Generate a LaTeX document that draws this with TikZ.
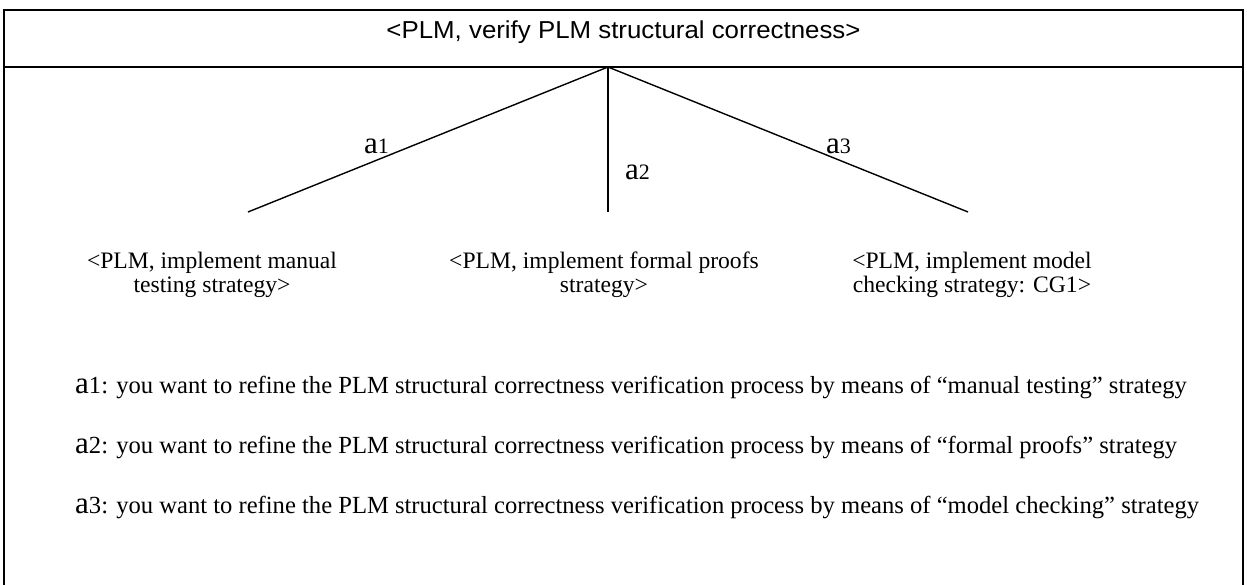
\documentclass[tikz,border=0pt]{standalone}
\usepackage{fontspec}
\setmainfont{Liberation Serif}
\newfontfamily\arialf{Liberation Sans}
\tikzset{
  frame/.style={line width=1.8pt},
  branch/.style={line width=1.4pt},
  childtxt/.style={font=\fontsize{23.6}{23.5}\selectfont, align=center, inner sep=0pt, anchor=base},
  lbl/.style={inner sep=0pt, anchor=base west},
  note/.style={inner sep=0pt, anchor=base west}
}
\newcommand{\alab}[1]{{\fontsize{31}{31}\selectfont a}{\fontsize{22}{22}\selectfont #1}}
\newcommand{\blab}[1]{{\fontsize{31}{31}\selectfont a}{\fontsize{24.6}{24.6}\selectfont #1}}
\begin{document}
\begin{tikzpicture}[x=1pt,y=-1pt]
\useasboundingbox (0,0) rectangle (1247,585);
\draw[frame] (4,585) -- (4,10) -- (1243,10) -- (1243,585);
\draw[frame] (4,67) -- (1243,67);
\node[font=\arialf\fontsize{24.5}{25}\selectfont, inner sep=0pt, anchor=base] (title) at (623.5,39) {\scalebox{1.055}[1]{<PLM, verify PLM structural correctness>}};
\coordinate (apex) at (608,67);
\coordinate (c1) at (248,212);
\coordinate (c2) at (608,212);
\coordinate (c3) at (968,212);
\draw[branch] (apex) -- (c1);
\draw[branch] (apex) -- (c2);
\draw[branch] (apex) -- (c3);
\node[lbl] (l1) at (364,154) {\alab{1}};
\node[lbl] (l2) at (625,180) {\alab{2}};
\node[lbl] (l3) at (826,154) {\alab{3}};
\begin{scope}
\clip (10,230) rectangle (1235,299);
\node[childtxt] (t1) at (212,292) {<PLM, implement manual\\testing strategy>};
\node[childtxt] (t2) at (604,292) {<PLM, implement formal proofs\\strategy>};
\node[childtxt] (t3) at (972,292) {<PLM, implement model\\checking strategy: CG1>};
\end{scope}
\node[note] (n1) at (75,393) {\blab{1}{\fontsize{24.6}{24.6}\selectfont : you want to refine the PLM structural correctness verification process by means of “manual testing” strategy}};
\node[note] (n2) at (75,453) {\blab{2}{\fontsize{24.6}{24.6}\selectfont : you want to refine the PLM structural correctness verification process by means of “formal proofs” strategy}};
\node[note] (n3) at (75,513) {\blab{3}{\fontsize{24.6}{24.6}\selectfont : you want to refine the PLM structural correctness verification process by means of “model checking” strategy}};
\end{tikzpicture}
\end{document}
